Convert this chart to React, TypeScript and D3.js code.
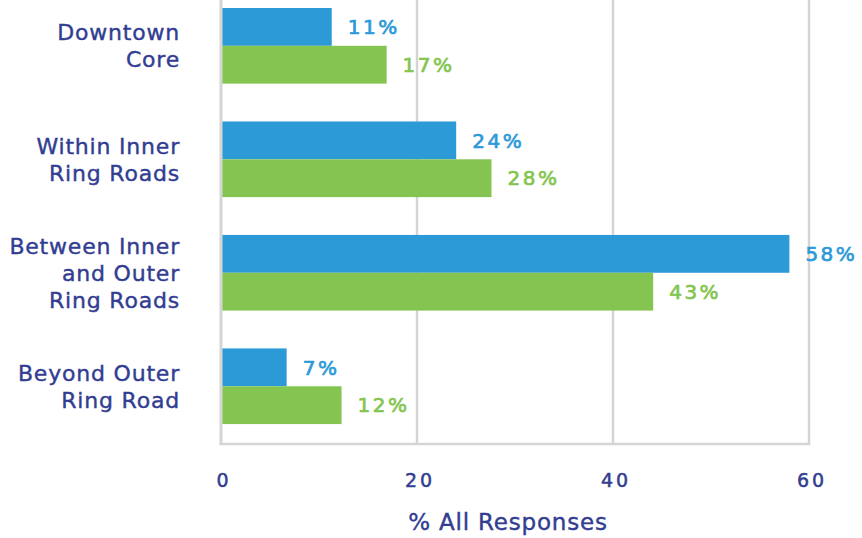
import { useEffect, useRef } from 'react';
import * as d3 from 'd3';

const categories = [
  ['Downtown', 'Core'],
  ['Within Inner', 'Ring Roads'],
  ['Between Inner', 'and Outer', 'Ring Roads'],
  ['Beyond Outer', 'Ring Road'],
];
const blueValues = [11.3, 24, 58, 6.7];
const greenValues = [16.9, 27.6, 44.1, 12.3];
const blueLabels = ['11%', '24%', '58%', '7%'];
const greenLabels = ['17%', '28%', '43%', '12%'];
const xTicks = [0, 20, 40, 60];

const BLUE = '#2d9ad8';
const GREEN = '#84c551';
const INDIGO = '#323d92';
const GRID = '#d5d5d5';
const FONT = '"DejaVu Sans", sans-serif';

export default function App() {
  const svgRef = useRef<SVGSVGElement>(null);

  useEffect(() => {
    if (!svgRef.current) return;
    const svg = d3.select(svgRef.current);
    svg.selectAll('*').remove();

    const width = 862;
    const height = 538;
    const left = 221;
    const right = 809;
    const bottom = 444;

    svg.attr('width', width).attr('height', height);

    const ids = categories.map((c) => c.join(' '));

    const x = d3.scaleLinear().domain([0, 60]).range([left, right]);
    const y = d3
      .scaleBand()
      .domain(ids)
      .range([0, bottom])
      .paddingInner(1 / 3)
      .paddingOuter(0.123)
      .align(0.286);
    const sub = d3.scaleBand().domain(['a', 'b']).range([0, y.bandwidth()]);

    // gridlines
    svg
      .append('g')
      .selectAll('line')
      .data(xTicks.slice(1))
      .enter()
      .append('line')
      .attr('x1', (d) => x(d))
      .attr('x2', (d) => x(d))
      .attr('y1', 0)
      .attr('y2', bottom)
      .attr('stroke', GRID)
      .attr('stroke-width', 2.5);

    // bars
    const rows = ids.map((id, i) => ({ id, i }));
    const g = svg.append('g');
    g.selectAll('.blue')
      .data(rows)
      .enter()
      .append('rect')
      .attr('x', x(0))
      .attr('y', (d) => (y(d.id) || 0) + (sub('a') || 0))
      .attr('width', (d) => x(blueValues[d.i]) - x(0))
      .attr('height', sub.bandwidth())
      .attr('fill', BLUE);
    g.selectAll('.green')
      .data(rows)
      .enter()
      .append('rect')
      .attr('x', x(0))
      .attr('y', (d) => (y(d.id) || 0) + (sub('b') || 0))
      .attr('width', (d) => x(greenValues[d.i]) - x(0))
      .attr('height', sub.bandwidth())
      .attr('fill', GREEN);

    // axis lines
    svg
      .append('line')
      .attr('x1', x(0))
      .attr('x2', x(0))
      .attr('y1', 0)
      .attr('y2', bottom + 1)
      .attr('stroke', GRID)
      .attr('stroke-width', 3);
    svg
      .append('line')
      .attr('x1', x(0) - 1.5)
      .attr('x2', x(60) + 1.25)
      .attr('y1', bottom)
      .attr('y2', bottom)
      .attr('stroke', GRID)
      .attr('stroke-width', 2.5);

    // value labels
    const addLabels = (vals: number[], labels: string[], key: 'a' | 'b', color: string) => {
      svg
        .append('g')
        .selectAll('text')
        .data(rows)
        .enter()
        .append('text')
        .attr('x', (d) => x(vals[d.i]) + 16)
        .attr('y', (d) => (y(d.id) || 0) + (sub(key) || 0) + sub.bandwidth() / 2)
        .attr('dy', '0.36em')
        .attr('fill', color)
        .attr('stroke', color)
        .attr('stroke-width', 0.7)
        .style('font-family', FONT)
        .style('font-size', '20px')
        .style('letter-spacing', '2.5px')
        .text((d) => labels[d.i]);
    };
    addLabels(blueValues, blueLabels, 'a', BLUE);
    addLabels(greenValues, greenLabels, 'b', GREEN);

    // category labels
    const lineH = 27;
    const cat = svg.append('g');
    rows.forEach((r) => {
      const lines = categories[r.i];
      const cy = (y(r.id) || 0) + y.bandwidth() / 2;
      const t = cat
        .append('text')
        .attr('text-anchor', 'end')
        .attr('fill', INDIGO)
        .attr('stroke', INDIGO)
        .attr('stroke-width', 0.4)
        .style('font-family', FONT)
        .style('font-size', '22px')
        .style('letter-spacing', '0.8px');
      lines.forEach((ln, k) => {
        t.append('tspan')
          .attr('x', 180)
          .attr('y', cy + (k - (lines.length - 1) / 2) * lineH)
          .attr('dy', '0.36em')
          .text(ln);
      });
    });

    // x tick labels
    svg
      .append('g')
      .selectAll('text')
      .data(xTicks)
      .enter()
      .append('text')
      .attr('x', (d) => x(d) + 3)
      .attr('y', 480)
      .attr('dy', '0.36em')
      .attr('text-anchor', 'middle')
      .attr('fill', INDIGO)
      .attr('stroke', INDIGO)
      .attr('stroke-width', 0.5)
      .style('font-family', FONT)
      .style('font-size', '19px')
      .style('letter-spacing', '3px')
      .text((d) => String(d));

    // axis title
    svg
      .append('text')
      .attr('x', 508)
      .attr('y', 522)
      .attr('dy', '0.36em')
      .attr('text-anchor', 'middle')
      .attr('fill', INDIGO)
      .attr('stroke', INDIGO)
      .attr('stroke-width', 0.4)
      .style('font-family', FONT)
      .style('font-size', '23px')
      .style('letter-spacing', '0.8px')
      .text('% All Responses');
  }, []);

  return (
    <svg
      ref={svgRef}
      style={{ position: 'absolute', left: 0, top: 0, background: '#fff' }}
    />
  );
}
